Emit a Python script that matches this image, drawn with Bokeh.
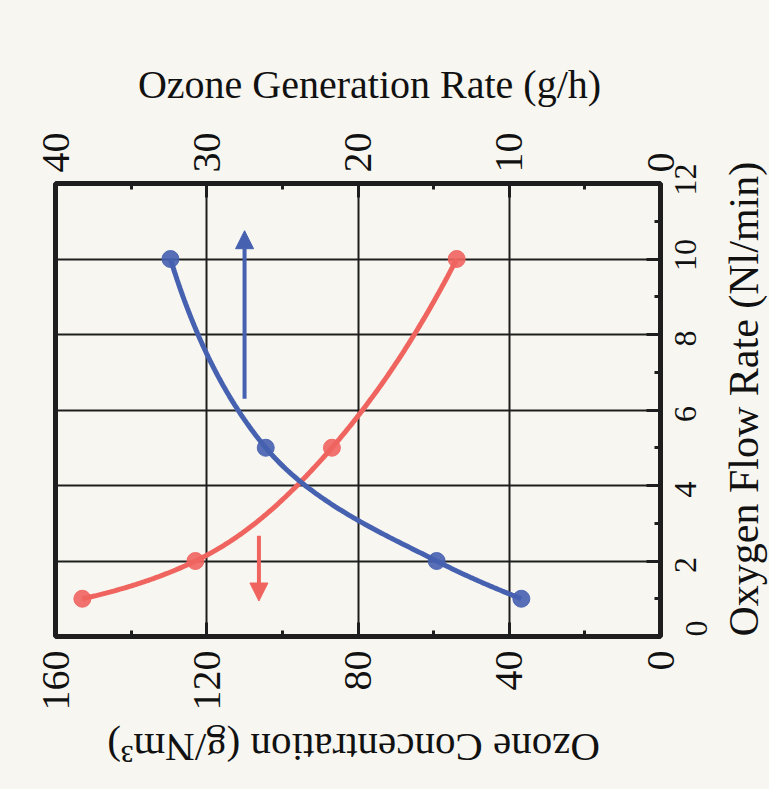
import math
import numpy as np
from bokeh.plotting import figure
from bokeh.models import (Range1d, LinearAxis, FixedTicker, Grid, Arrow,
                          NormalHead)
from bokeh.embed import file_html
from bokeh.resources import INLINE

# ---- data ----
flow = [1, 2, 5, 10]                       # Oxygen Flow Rate (Nl/min)
concentration = [152.9, 123.0, 86.9, 53.9]  # Ozone Concentration (g/Nm3)
generation = [9.2, 14.8, 26.1, 32.4]        # Ozone Generation Rate (g/h)

conc_ticks = [0, 40, 80, 120, 160]
conc_minor = [20, 60, 100, 140]
gen_ticks = [0, 10, 20, 30, 40]
gen_minor = [5, 15, 25, 35]
flow_ticks = [0, 2, 4, 6, 8, 10, 12]
flow_minor = [1, 3, 5, 7, 9, 11]

# trend arrows (concentration position, flow start, flow end)
arrow_conc = [110.0, 106.2]
arrow_flow_start = [6.3, 2.67]
arrow_flow_end = [10.75, 0.94]

TITLE_GEN = "Ozone Generation Rate (g/h)"
TITLE_CONC = "Ozone Concentration (g/Nm³)"
TITLE_FLOW = "Oxygen Flow Rate (Nl/min)"

BG = "#f7f6f0"
BLUE = "#4661b0"
RED = "#f0645f"
INK = "#1e1e1e"
TXT = "#111111"
FONT = "Liberation Serif"

FRAME_W, FRAME_H = 605, 453


def pchip(xk, yk, xs):
    xk = np.asarray(xk, float)
    yk = np.asarray(yk, float)
    h = np.diff(xk)
    d = np.diff(yk) / h
    n = len(xk)
    m = np.zeros(n)
    for k in range(1, n - 1):
        if d[k - 1] * d[k] > 0:
            w1 = 2 * h[k] + h[k - 1]
            w2 = h[k] + 2 * h[k - 1]
            m[k] = (w1 + w2) / (w1 / d[k - 1] + w2 / d[k])

    def end(h0, h1, d0, d1):
        s = ((2 * h0 + h1) * d0 - h0 * d1) / (h0 + h1)
        if np.sign(s) != np.sign(d0):
            s = 0.0
        elif np.sign(d0) != np.sign(d1) and abs(s) > abs(3 * d0):
            s = 3 * d0
        return s

    m[0] = end(h[0], h[1], d[0], d[1])
    m[-1] = end(h[-1], h[-2], d[-1], d[-2])
    idx = np.clip(np.searchsorted(xk, xs) - 1, 0, n - 2)
    t = (xs - xk[idx]) / h[idx]
    h00 = 2 * t**3 - 3 * t**2 + 1
    h10 = t**3 - 2 * t**2 + t
    h01 = -2 * t**3 + 3 * t**2
    h11 = t**3 - t**2
    return (h00 * yk[idx] + h10 * h[idx] * m[idx]
            + h01 * yk[idx + 1] + h11 * h[idx] * m[idx + 1])


# smooth display curves through the measured points (in log-flow space)
u = np.log(np.asarray(flow, float))
uf = np.linspace(u[0], u[-1], 200)
flow_fine = np.exp(uf)
conc_fine = pchip(u, concentration, uf)
gen_fine = pchip(u, generation, uf)

px_flow = FRAME_H / (flow_ticks[-1] - flow_ticks[0])   # px per flow unit

p = figure(frame_width=FRAME_W, frame_height=FRAME_H,
           x_range=Range1d(conc_ticks[-1], conc_ticks[0]),
           y_range=Range1d(flow_ticks[0], flow_ticks[-1]),
           x_axis_location=None, y_axis_location=None,
           output_backend="svg", toolbar_location=None,
           min_border_left=55, min_border_right=109,
           min_border_top=183, min_border_bottom=153)
p.extra_x_ranges = {"gen": Range1d(gen_ticks[-1], gen_ticks[0])}
# label-only range for the right axis, nudged so rotated labels sit centred on ticks
lbl_shift = 12 / px_flow
p.extra_y_ranges = {"flow_lbl": Range1d(flow_ticks[0] + lbl_shift,
                                        flow_ticks[-1] + lbl_shift)}
p.grid.visible = False

p.background_fill_color = BG
p.border_fill_color = BG
p.outline_line_color = INK
p.outline_line_width = 5


def style_ticks(ax):
    ax.axis_line_color = None
    ax.major_tick_in = 14
    ax.major_tick_out = 0
    ax.minor_tick_in = 6
    ax.minor_tick_out = 0
    ax.major_tick_line_width = 3
    ax.minor_tick_line_width = 3
    ax.major_tick_line_color = INK
    ax.minor_tick_line_color = INK


def style_labels(ax, size, standoff, orientation=math.pi / 2):
    ax.major_label_text_font = FONT
    ax.major_label_text_font_size = size
    ax.major_label_text_color = TXT
    ax.major_label_orientation = orientation
    ax.major_label_standoff = standoff


def bare(ax):
    ax.axis_line_color = None
    ax.major_tick_line_color = None
    ax.minor_tick_line_color = None
    ax.major_tick_in = 0
    ax.major_tick_out = 0
    ax.minor_tick_in = 0
    ax.minor_tick_out = 0


def title_axis(pos, text, orientation, size, standoff, **kw):
    # an axis with one labelled tick, used to carry an axis title
    ax = LinearAxis(ticker=FixedTicker(ticks=[pos]),
                    major_label_overrides={pos: text}, **kw)
    bare(ax)
    style_labels(ax, size, standoff, orientation)
    return ax


# bottom: concentration
below = LinearAxis(ticker=FixedTicker(ticks=conc_ticks, minor_ticks=conc_minor))
style_ticks(below)
style_labels(below, "40px", 14)
p.add_layout(below, "below")
p.add_layout(title_axis(146.3, TITLE_CONC, math.pi, "41px", 34), "below")

# top: generation rate
above = LinearAxis(x_range_name="gen",
                   ticker=FixedTicker(ticks=gen_ticks, minor_ticks=gen_minor))
style_ticks(above)
style_labels(above, "40px", 11)
p.add_layout(above, "above")
p.add_layout(title_axis(19.24, TITLE_GEN, "horizontal", "40px", 23,
                        x_range_name="gen"), "above")

# right: flow rate -- tick marks (+ the "0" label), shifted labels, then title
right_ticks = LinearAxis(ticker=FixedTicker(ticks=flow_ticks, minor_ticks=flow_minor),
                         major_label_overrides={t: "" for t in flow_ticks[1:]})
style_ticks(right_ticks)
style_labels(right_ticks, "32px", 36)
p.add_layout(right_ticks, "right")

right_lbl = LinearAxis(y_range_name="flow_lbl", ticker=FixedTicker(ticks=flow_ticks[1:]))
bare(right_lbl)
style_labels(right_lbl, "32px", -35)
p.add_layout(right_lbl, "right")

p.add_layout(title_axis(flow_ticks[0], TITLE_FLOW, math.pi / 2, "42px", 23), "right")

p.add_layout(Grid(dimension=0, ticker=FixedTicker(ticks=conc_ticks[1:-1]),
                  grid_line_color=INK, grid_line_width=2))
p.add_layout(Grid(dimension=1, ticker=FixedTicker(ticks=flow_ticks[1:-1]),
                  grid_line_color=INK, grid_line_width=2))

# curves
p.line(conc_fine, flow_fine, line_color=RED, line_width=5)
p.line(gen_fine, flow_fine, line_color=BLUE, line_width=5, x_range_name="gen")

# markers
p.scatter(concentration, flow, size=17, fill_color=RED, line_color=RED,
          fill_alpha=0.9, line_alpha=0.9)
p.scatter(generation, flow, size=17, fill_color=BLUE, line_color=BLUE,
          fill_alpha=0.9, line_alpha=0.9, x_range_name="gen")

# arrows
for xc, ys, ye, col in zip(arrow_conc, arrow_flow_start, arrow_flow_end, [BLUE, RED]):
    p.add_layout(Arrow(x_start=xc, y_start=ys, x_end=xc, y_end=ye,
                       line_color=col, line_width=4,
                       end=NormalHead(size=18, fill_color=col, line_color=col)))

html = file_html(p, INLINE)
html = html.replace("<html", '<html style="background-color:%s;"' % BG, 1)
html = html.replace("<body>", '<body style="background-color:%s;">' % BG, 1)
open("out.html", "w").write(html)
